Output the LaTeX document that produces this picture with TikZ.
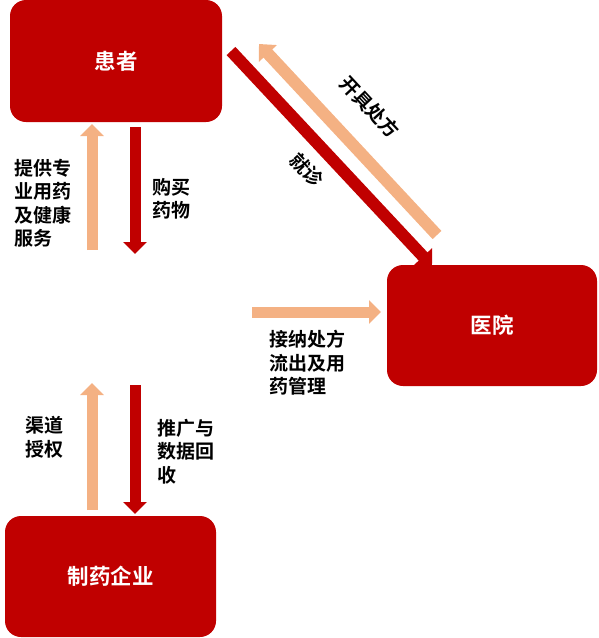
\documentclass[tikz,border=0pt]{standalone}
\usepackage{fontspec}
\setmainfont{Noto Sans CJK SC}[BoldFont={* Bold}]
\usetikzlibrary{arrows.meta}
\definecolor{boxred}{HTML}{C00000}
\definecolor{peach}{HTML}{F4B183}
\tikzset{
  box/.style={fill=boxred, rounded corners=16pt, text=white, font=\bfseries\fontsize{21.5pt}{24pt}\selectfont, inner sep=0pt},
  lbl/.style={anchor=north west, inner sep=0pt, align=left, font=\bfseries\fontsize{19pt}{23.5pt}\selectfont},
  difont/.style={inner sep=0pt, rotate=-47, font=\bfseries\fontsize{19pt}{20pt}\selectfont},
  redarr/.style={draw=boxred, line width=11pt, -{Triangle[width=23pt,length=12pt]}},
  lightarr/.style={draw=peach, line width=11pt, -{Triangle[width=23pt,length=12pt]}},
}
\begin{document}
\begin{tikzpicture}[x=1pt,y=-1pt]
\useasboundingbox (0,0) rectangle (598,638);
\node[box, minimum width=212pt, minimum height=122pt] (pat) at (116,61) {患者};
\node[box, minimum width=210pt, minimum height=121pt] (hos) at (492,325.5) {医院};
\node[box, minimum width=211pt, minimum height=121pt] (pha) at (110.5,576.5) {制药企业};

\coordinate (a1s) at (92,250); \coordinate (a1e) at (92,124);
\coordinate (a2s) at (135,127); \coordinate (a2e) at (135,254);
\coordinate (a3s) at (92,510); \coordinate (a3e) at (92,383);
\coordinate (a4s) at (135,385); \coordinate (a4e) at (135,514);
\coordinate (a5s) at (252,312); \coordinate (a5e) at (381,312);
\coordinate (a6s) at (231,51); \coordinate (a6e) at (432,266);
\coordinate (a7s) at (437,235); \coordinate (a7e) at (259,44);

\draw[lightarr] (a1s) -- (a1e);
\draw[redarr] (a2s) -- (a2e);
\draw[lightarr] (a3s) -- (a3e);
\draw[redarr] (a4s) -- (a4e);
\draw[lightarr] (a5s) -- (a5e);
\draw[redarr, line width=12pt, -{Triangle[width=24pt,length=13pt]}] (a6s) -- (a6e);
\draw[lightarr, line width=12pt, -{Triangle[width=24pt,length=13pt]}] (a7s) -- (a7e);

\node[lbl] (t1) at (14,159) {提供专\\业用药\\及健康\\服务};
\node[lbl] (t2) at (152,178) {购买\\药物};
\node[lbl] (t3) at (269,330) {接纳处方\\流出及用\\药管理};
\node[lbl] (t4) at (25,416) {渠道\\授权};
\node[lbl] (t5) at (157,419) {推广与\\数据回\\收};
\node[difont] (t6) at (307,170) {就诊};
\node[difont] (t7) at (370,107) {开具处方};
\end{tikzpicture}
\end{document}
